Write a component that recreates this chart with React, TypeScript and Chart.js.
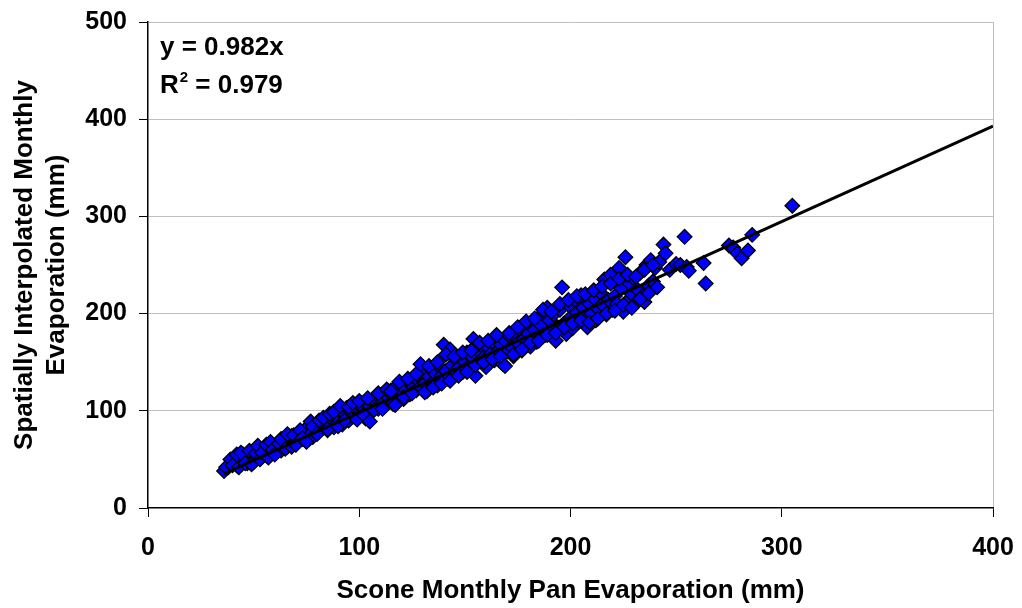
import React, { useEffect, useRef } from "react";
import { Chart, registerables } from "chart.js";

Chart.register(...registerables);

const panEvap: number[] = [
  36,38,40,41,42,43,44,45,45,46,47,47,48,49,50,50,51,52,53,54,55,55,56,57,58,59,60,61,62,63,64,65,66,67,68,69,70,71,72,73,74,75,76,77,78,79,80,81,82,83,84,85,86,87,88,89,90,91,92,93,94,95,96,97,98,99,100,101,102,103,104,105,106,107,108,109,110,111,112,113,114,115,116,117,118,119,120,121,122,123,124,125,126,127,128,129,130,131,132,133,134,135,136,137,138,139,140,141,142,143,144,145,146,147,148,149,150,151,152,153,154,155,156,157,158,159,160,161,162,163,164,165,166,167,168,169,170,171,172,173,174,175,176,177,178,179,180,181,182,183,184,185,186,187,188,189,190,191,192,193,194,195,196,197,198,199,200,201,202,203,204,205,206,207,208,209,210,211,212,213,214,215,216,217,218,219,220,221,222,223,224,225,226,227,228,229,230,231,232,233,234,235,236,237,238,239,240,241,242,244,245,247,250,252,254,255,256,264,263,275,277,279,281,284,286,305,
  37,39,40,42,43,44,46,48,49,51,52,53,54,56,57,58,59,60,62,63,65,66,68,69,70,72,73,75,77,78,80,81,83,85,86,88,90,91,93,95,97,99,100,102,104,105,107,109,111,113,115,117,119,121,123,125,127,129,131,133,135,137,139,141,143,145,147,149,151,153,155,157,159,161,163,165,167,169,171,173,175,177,179,181,183,185,187,189,191,193,195,197,199,201,203,205,207,209,211,213,215,217,219,221,223,225,227,229,231,233,235,237,239
];

const interpEvap: number[] = [
  38,42,45,48,44,52,47,55,49,51,46,53,50,57,52,47,55,58,51,60,56,62,54,59,63,57,61,66,64,59,68,72,63,70,74,67,73,69,77,71,80,75,84,78,73,82,86,79,88,84,91,80,94,87,83,96,92,100,86,97,103,90,99,94,105,101,96,108,103,92,110,105,99,113,108,102,116,110,105,118,113,121,107,124,115,119,127,112,122,130,117,126,135,121,131,125,139,128,120,135,143,130,138,126,145,136,168,141,133,163,147,139,152,144,157,140,150,160,146,156,174,136,162,151,167,155,145,165,158,171,152,176,162,168,148,172,161,177,166,156,180,170,184,162,174,188,179,166,192,183,171,196,188,200,178,206,193,183,199,172,186,204,227,190,179,209,196,185,214,201,192,219,206,197,186,210,200,216,193,205,222,209,235,199,214,240,204,218,210,247,226,202,258,213,231,220,236,211,224,242,218,212,250,229,255,233,247,227,253,271,262,245,251,250,279,248,244,231,252,270,268,262,257,265,281,311,
  42,50,44,55,42,57,46,59,45,56,64,50,57,65,52,68,60,55,66,71,61,76,63,75,65,80,72,68,89,84,76,90,93,81,97,99,84,105,90,104,108,91,110,96,113,89,101,118,102,122,120,106,130,114,133,118,138,148,119,146,124,150,128,158,131,156,136,160,140,162,147,170,150,172,153,178,156,146,180,158,186,163,192,170,195,172,204,178,202,180,210,186,214,190,218,193,220,191,224,195,228,200,231,203,236,209,240,206,238,215,245,221,250
];

const trendSlope = 0.982;
const trendStartX = 36;
const xMax = 400;
const xTicks: number[] = [0, 100, 200, 300, 400];
const yTicks: number[] = [0, 100, 200, 300, 400, 500];
const equationText = "y = 0.982x";
const r2Value = "0.979";
const xTitle = "Scone Monthly Pan Evaporation (mm)";
const yTitle: string[] = ["Spatially Interpolated Monthly", "Evaporation (mm)"];

const FONT = "'Liberation Sans', Arial, sans-serif";

const equationPlugin = {
  id: "equationText",
  afterDraw(chart: any) {
    const ctx = chart.ctx;
    const area = chart.chartArea;
    ctx.save();
    ctx.fillStyle = "#000";
    ctx.textBaseline = "alphabetic";
    ctx.textAlign = "left";
    ctx.font = `bold 26px ${FONT}`;
    const x0 = area.left + 12;
    ctx.fillText(equationText, x0, area.top + 33);
    ctx.fillText("R", x0, area.top + 71);
    const rw = ctx.measureText("R").width;
    ctx.font = `bold 15px ${FONT}`;
    ctx.fillText("2", x0 + rw + 1, area.top + 60);
    const sw = ctx.measureText("2").width;
    ctx.font = `bold 26px ${FONT}`;
    ctx.fillText(" = " + r2Value, x0 + rw + 1 + sw, area.top + 71);
    ctx.restore();
  },
};

export default function App() {
  const ref = useRef<HTMLCanvasElement | null>(null);
  useEffect(() => {
    if (!ref.current) return;
    const points = panEvap.map((x, i) => ({ x, y: interpEvap[i] }));
    const trend = [
      { x: trendStartX, y: trendSlope * trendStartX },
      { x: xMax, y: trendSlope * xMax },
    ];
    const chart = new Chart(ref.current, {
      type: "scatter",
      data: {
        datasets: [
          {
            type: "line",
            data: trend,
            borderColor: "#000",
            borderWidth: 3,
            pointRadius: 0,
            fill: false,
            order: 0,
          } as any,
          {
            data: points,
            pointStyle: "rectRot",
            pointRadius: 7.3,
            backgroundColor: "#0000FF",
            borderColor: "#000",
            borderWidth: 1.3,
            order: 1,
          },
        ],
      },
      options: {
        responsive: false,
        animation: false,
        layout: { padding: { top: 22, right: 29, left: 0, bottom: 0 } },
        plugins: { legend: { display: false }, tooltip: { enabled: false } },
        scales: {
          x: {
            type: "linear",
            min: 0,
            max: xMax,
            afterBuildTicks: (s: any) => {
              s.ticks = xTicks.map((v) => ({ value: v }));
            },
            afterFit: (s: any) => {
              s.height = 100;
              s.paddingLeft = 0;
              s.paddingRight = 0;
            },
            grid: {
              color: (c: any) => (c.tick && c.tick.value === xMax ? "#c0c0c0" : "rgba(0,0,0,0)"),
              tickColor: "#000",
              tickLength: 9,
              drawTicks: true,
            },
            border: { color: "#000", width: 1.5 },
            ticks: {
              color: "#000",
              padding: 16,
              font: { family: FONT, size: 25, weight: "bold" },
            },
            title: {
              display: true,
              text: xTitle,
              color: "#000",
              font: { family: FONT, size: 26, weight: "bold" },
              padding: { top: 0, bottom: 2 },
            },
          },
          y: {
            type: "linear",
            min: 0,
            max: 500,
            afterBuildTicks: (s: any) => {
              s.ticks = yTicks.map((v) => ({ value: v }));
            },
            afterFit: (s: any) => {
              s.width = 148;
              s.paddingTop = 0;
              s.paddingBottom = 0;
            },
            grid: {
              color: (c: any) => (c.tick && c.tick.value === 0 ? "rgba(0,0,0,0)" : "#c0c0c0"),
              tickColor: "#000",
              tickLength: 9,
            },
            border: { color: "#000", width: 1.5 },
            ticks: {
              color: "#000",
              padding: 12,
              font: { family: FONT, size: 25, weight: "bold" },
            },
            title: {
              display: true,
              text: yTitle,
              color: "#000",
              font: { family: FONT, size: 26, weight: "bold", lineHeight: 1.23 },
              padding: { top: 9, bottom: 0 },
            },
          },
        },
      },
      plugins: [equationPlugin],
    });
    return () => chart.destroy();
  }, []);
  return (
    <div style={{ position: "absolute", left: 0, top: 0, width: 1022, height: 608, background: "#fff" }}>
      <canvas ref={ref} width={1022} height={608} />
    </div>
  );
}
